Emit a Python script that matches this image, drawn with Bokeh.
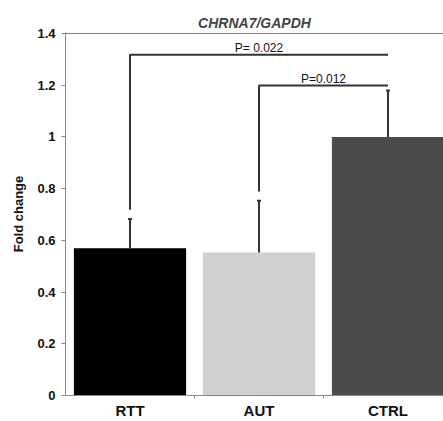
from bokeh.plotting import figure
from bokeh.models import Range1d, FixedTicker, NumeralTickFormatter, Span, ColumnDataSource
from bokeh.embed import file_html
from bokeh.resources import INLINE
from bokeh.core.properties import value

# ---- data ----
groups = ["RTT", "AUT", "CTRL"]
means = [0.57, 0.553, 1.0]
upper = [0.683, 0.753, 1.18]
colors = ["#000000", "#d0d0d0", "#4b4b4b"]
y_ticks = [0, 0.2, 0.4, 0.6, 0.8, 1.0, 1.2, 1.4]

p_labels = ["P= 0.022", "P=0.012"]
bracket_from = [0, 1]
bracket_to = [2, 2]
bracket_y = [1.318, 1.199]
bracket_leg_bottom = [0.718, 0.789]

centers = [i + 0.5 for i in range(len(groups))]

p = figure(width=443, height=421, output_backend="svg", toolbar_location=None,
           x_range=Range1d(0, 2.93), y_range=Range1d(0, 1.404),
           min_border_left=65, min_border_right=0, min_border_top=32, min_border_bottom=0)
p.outline_line_color = None
p.xgrid.visible = False
p.ygrid.visible = False
p.background_fill_color = "white"

# title
p.title.text = "CHRNA7/GAPDH"
p.title.align = "center"
p.title.text_font = "Liberation Sans"
p.title.text_font_style = "bold italic"
p.title.text_font_size = "14px"
p.title.standoff = 4

# bars
src = ColumnDataSource(dict(x=centers, top=means, color=colors, up=upper))
p.vbar(x="x", top="top", bottom=0, width=0.87, fill_color="color", line_color=None, source=src)

# error bars (upper only)
p.segment(x0="x", y0="top", x1="x", y1="up", line_color="#333333", line_width=2, source=src)
p.scatter(x="x", y="up", marker="dash", size=4, line_color="#333333", line_width=2, source=src)

# significance brackets
xs, ys = [], []
for a, b, y, lb in zip(bracket_from, bracket_to, bracket_y, bracket_leg_bottom):
    xs.append([centers[a], centers[a], centers[b]])
    ys.append([lb, y, y])
p.multi_line(xs=xs, ys=ys, line_color="#333333", line_width=2)
lbl_x = [(centers[a] + centers[b]) / 2 for a, b in zip(bracket_from, bracket_to)]
p.text(x=lbl_x, y=bracket_y, text=p_labels, text_align="center", text_baseline="bottom",
       y_offset=0, text_font=value("Liberation Sans"), text_font_size="12px", text_color="#111111")

# top line at 1.4
p.add_layout(Span(location=1.4, dimension="width", line_color="#808080", line_width=1))

# y axis
ya = p.yaxis[0]
ya.ticker = FixedTicker(ticks=y_ticks)
ya.formatter = NumeralTickFormatter(format="0.[0]")
ya.axis_line_color = "#8a8a8a"
ya.major_tick_line_color = "#8a8a8a"
ya.major_tick_out = 4
ya.major_tick_in = 0
ya.minor_tick_line_color = None
ya.major_label_standoff = 6
ya.major_label_text_font = "Liberation Sans"
ya.major_label_text_font_style = "bold"
ya.major_label_text_font_size = "13px"
ya.major_label_text_color = "#111111"
ya.axis_label = "Fold change"
ya.axis_label_text_font = "Liberation Sans"
ya.axis_label_text_font_style = "bold"
ya.axis_label_text_font_size = "13px"
ya.axis_label_text_color = "#111111"
ya.axis_label_standoff = 8

# x axis
xa = p.xaxis[0]
xa.ticker = FixedTicker(ticks=centers, minor_ticks=[1, 2])
xa.major_label_overrides = {c: g for c, g in zip(centers, groups)}
xa.axis_line_color = "#8a8a8a"
xa.major_tick_line_color = None
xa.minor_tick_line_color = "#8a8a8a"
xa.minor_tick_out = 3
xa.minor_tick_in = 0
xa.major_tick_out = 3
xa.major_label_standoff = 3
xa.major_label_text_font = "Liberation Sans"
xa.major_label_text_font_style = "bold"
xa.major_label_text_font_size = "15px"
xa.major_label_text_color = "#111111"

open("out.html", "w").write(file_html(p, INLINE))
